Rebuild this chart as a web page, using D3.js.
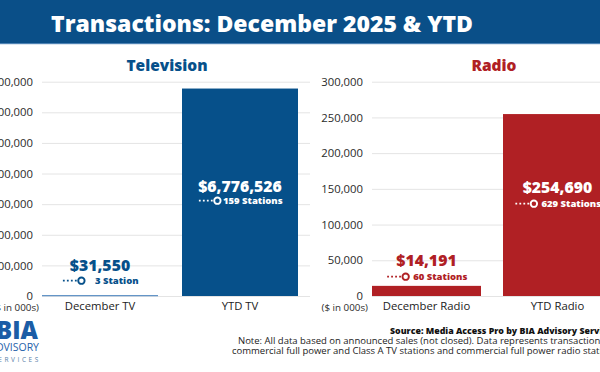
<!DOCTYPE html>
<html><head><meta charset="utf-8">
<script src="https://cdn.jsdelivr.net/npm/d3@7"></script>
<style>
html,body{margin:0;padding:0;background:#fff;overflow:hidden}
svg{display:block;font-family:"Open Sans",sans-serif}
</style></head>
<body><svg id="c" width="600" height="372"></svg>
<script>
// ---- data ----
const tvCategories = ["December TV", "YTD TV"];
const tvValues = [31550, 6776526];
const tvStations = ["3 Station", "159 Stations"];
const tvTicks = [0, 1000000, 2000000, 3000000, 4000000, 5000000, 6000000, 7000000];

const radioCategories = ["December Radio", "YTD Radio"];
const radioValues = [14191, 254690];
const radioStations = ["60 Stations", "629 Stations"];
const radioTicks = [0, 50000, 100000, 150000, 200000, 250000, 300000];

const titleText = "Transactions: December 2025 & YTD";
const unitText = "($ in 000s)";
const sourceText = "Source: Media Access Pro by BIA Advisory Services";
const noteLines = [
  "Note: All data based on announced sales (not closed).  Data represents transactions for",
  "commercial full power and Class A TV stations and commercial full power radio stations."
];

// ---- drawing ----
const svg = d3.select("#c");
const BLUE = "#06508a", RED = "#b02024";

svg.append("rect").attr("x", 0).attr("y", 0).attr("width", 600).attr("height", 43).attr("fill", "#0a4f88");
svg.append("rect").attr("x", 0).attr("y", 43).attr("width", 600).attr("height", 1.2).attr("fill", "#4d82b3");
svg.append("text").attr("x", 262).attr("y", 31.5).attr("text-anchor", "middle")
  .attr("fill", "#fff").attr("font-size", 23).attr("font-weight", 800).text(titleText);

const fmt = d3.format(",");

function panel(opt) {
  const g = svg.append("g");
  const y = d3.scaleLinear().domain([0, opt.max]).range([296, 81.7]);
  const x = d3.scaleBand().domain(opt.cats).range(opt.xr)
    .paddingInner(opt.pi).paddingOuter(opt.pi / 2);

  // title
  g.append("text").attr("x", opt.titleX).attr("y", 71).attr("text-anchor", "middle")
    .attr("fill", opt.color).attr("font-size", 15.5).attr("font-weight", 800).text(opt.title);

  // y axis with gridlines
  const ax = g.append("g").attr("transform", `translate(${opt.gx0},0)`)
    .call(d3.axisLeft(y).tickValues(opt.ticks).tickFormat(fmt)
      .tickSizeInner(-(opt.gx1 - opt.gx0)).tickSizeOuter(0).tickPadding(9));
  ax.select(".domain").remove();
  ax.selectAll(".tick line").attr("stroke", "#e4e4e4").attr("stroke-width", 1);
  ax.selectAll(".tick text").attr("fill", "#2b2b2b").attr("font-size", 11.3)
    .attr("font-family", "'Open Sans',sans-serif");

  // bars
  g.selectAll("rect.bar").data(opt.vals).join("rect").attr("class", "bar")
    .attr("x", (d, i) => x(opt.cats[i])).attr("width", x.bandwidth())
    .attr("y", d => y(d)).attr("height", d => Math.max(y(0) - y(d), 1.2))
    .attr("fill", (d, i) => (y(0) - y(d) < 2) ? opt.thin : opt.color);

  // category labels
  g.selectAll("text.cat").data(opt.cats).join("text").attr("class", "cat")
    .attr("x", d => x(d) + x.bandwidth() / 2).attr("y", 310).attr("text-anchor", "middle")
    .attr("fill", "#222").attr("font-size", 11.3).text(d => d);

  g.append("text").attr("x", opt.unitX).attr("y", 310.5).attr("text-anchor", "end")
    .attr("fill", "#2b2b2b").attr("font-size", 9.8).text(unitText);

  // value labels
  opt.vals.forEach((v, i) => {
    const cx = x(opt.cats[i]) + x.bandwidth() / 2;
    const inside = i === 1;
    const col = inside ? "#fff" : opt.color;
    const vy = opt.labelY[i][0], sy = opt.labelY[i][1];
    g.append("text").attr("x", cx).attr("y", vy).attr("text-anchor", "middle")
      .attr("fill", col).attr("font-size", 15.8).attr("font-weight", 800).text("$" + fmt(v));
    const sg = g.append("g");
    const t = sg.append("text").attr("y", sy).attr("fill", col)
      .attr("font-size", 9.5).attr("font-weight", 800).text(opt.stations[i]);
    const tw = t.node().getComputedTextLength();
    const gap = opt.stationGap[i];
    const total = 15 + 4 + 3.5 + gap + tw;
    const x0 = cx - total / 2;
    sg.append("line").attr("x1", x0 + 1).attr("x2", x0 + 15).attr("y1", sy - 3.3).attr("y2", sy - 3.3)
      .attr("stroke", col).attr("stroke-width", 1.8).attr("stroke-dasharray", "1.8,2.2");
    sg.append("circle").attr("cx", x0 + 19.5).attr("cy", sy - 3.3).attr("r", 3.2)
      .attr("fill", "none").attr("stroke", col).attr("stroke-width", 1.9);
    t.attr("x", x0 + 23 + gap);
  });
}

panel({
  title: "Television", titleX: 167, color: BLUE, thin: "#5f92c6", max: 7000000, ticks: tvTicks,
  cats: tvCategories, vals: tvValues, stations: tvStations,
  xr: [30, 310], pi: 24 / 140, gx0: 42, gx1: 310, unitX: 39,
  labelY: [[271, 284], [192, 204]], stationGap: [10, 2]
});
panel({
  title: "Radio", titleX: 494, color: RED, thin: RED, max: 300000, ticks: radioTicks,
  cats: radioCategories, vals: radioValues, stations: radioStations,
  xr: [361, 623], pi: 22 / 131, gx0: 372, gx1: 640, unitX: 368,
  labelY: [[266, 280], [193, 207]], stationGap: [4, 4]
});

// footer
svg.append("text").attr("x", 390).attr("y", 334).attr("fill", "#111")
  .attr("font-size", 8.8).attr("font-weight", 800).text(sourceText);
svg.selectAll("text.note").data(noteLines).join("text").attr("class", "note")
  .attr("x", (d, i) => i === 0 ? 238 : 232).attr("y", (d, i) => 344 + i * 10)
  .attr("fill", "#222").attr("font-size", 9.5).text(d => d);

// logo
const logo = svg.append("g");
logo.append("text").attr("x", 38).attr("y", 339).attr("text-anchor", "end")
  .attr("fill", "#1b5da6").attr("font-size", 24).attr("font-weight", 800).text("BIA");
logo.append("text").attr("x", 39).attr("y", 351).attr("text-anchor", "end")
  .attr("fill", "#1f62aa").attr("font-size", 10.5).text("ADVISORY");
logo.append("text").attr("x", 41).attr("y", 362).attr("text-anchor", "end")
  .attr("fill", "#5a7fa8").attr("font-size", 6.5).attr("letter-spacing", 2.6).text("SERVICES");
</script></body></html>
